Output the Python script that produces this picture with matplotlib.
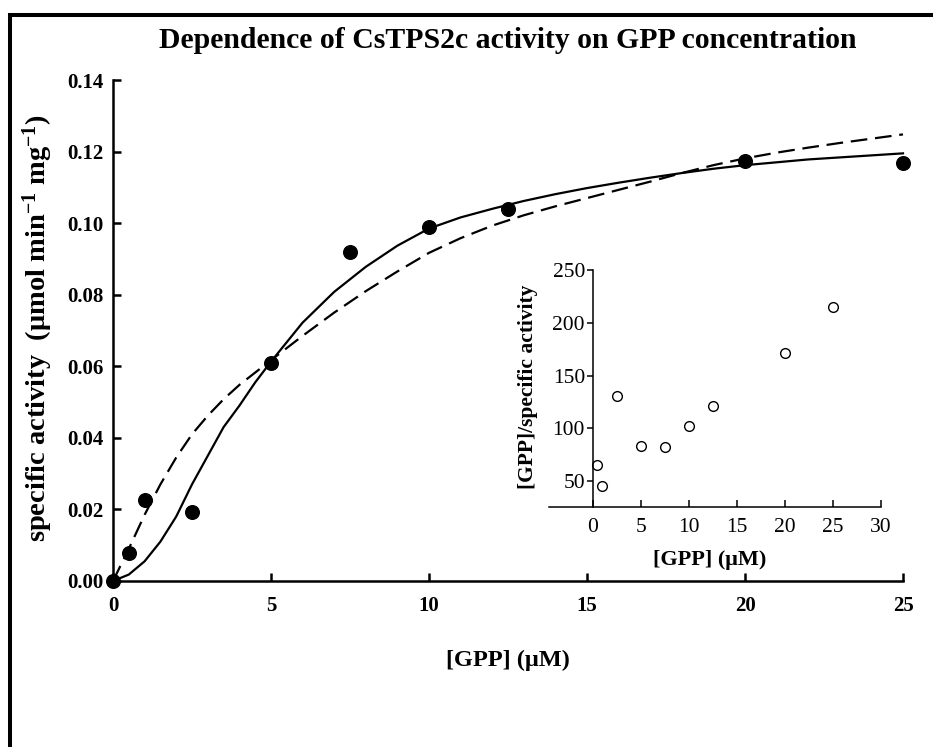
import matplotlib
matplotlib.use("Agg")
import matplotlib.pyplot as plt
from matplotlib.patches import Rectangle

plt.rcParams['font.family'] = ['Liberation Serif', 'DejaVu Serif']
plt.rcParams['mathtext.fontset'] = 'custom'
plt.rcParams['mathtext.rm'] = 'Liberation Serif:bold'
plt.rcParams['mathtext.default'] = 'rm'

# measured specific activity vs [GPP]
gpp = [0, 0.5, 1, 2.5, 5, 7.5, 10, 12.5, 20, 25]
activity = [0.0, 0.0078, 0.0226, 0.0193, 0.0609, 0.0920, 0.0988, 0.1039, 0.1174, 0.1167]

# fitted curves
hill_x = [0, 0.5, 1, 1.5, 2, 2.5, 3, 3.5, 4, 4.5, 5, 6, 7, 8, 9, 10, 11, 12, 13,
          14, 15, 16, 17, 18, 19, 20, 22, 25]
hill_y = [0.0, 0.0018, 0.0055, 0.011, 0.018, 0.027, 0.035, 0.043, 0.049, 0.0555, 0.0613,
          0.0722, 0.0808, 0.0878, 0.0937, 0.0985, 0.1016, 0.1040, 0.1062,
          0.1081, 0.1098, 0.1113, 0.1127, 0.1140, 0.1152, 0.1162, 0.1178, 0.1195]
mm_x = [0, 0.5, 1, 1.5, 2, 2.5, 3, 3.5, 4, 5, 6, 7, 8, 9, 10, 11, 12, 13, 14, 15,
        16, 17, 18, 19, 20, 21, 22, 23, 24, 25]
mm_y = [0.0, 0.009, 0.0185, 0.027, 0.0345, 0.041, 0.0462, 0.0508, 0.0548, 0.0617, 0.0685,
        0.0750, 0.0810, 0.0865, 0.0917, 0.0958, 0.0993, 0.1022, 0.1047, 0.1070,
        0.1093, 0.1116, 0.1140, 0.1162, 0.1181, 0.1197, 0.1211, 0.1224, 0.1236, 0.1248]

# inset: [GPP]/specific activity
inset_x = [0.5, 1, 2.5, 5, 7.5, 10, 12.5, 20, 25]
inset_y = [65.7, 45.2, 131.2, 83.0, 82.7, 101.9, 121.2, 171.2, 215.0]

W, H = 933, 747
fig = plt.figure(figsize=(W / 100, H / 100), dpi=100)

ax = fig.add_axes([113 / W, 1 - 581 / H, 790 / W, 501 / H])
ax.plot(hill_x, hill_y, color='black', lw=1.6, clip_on=False)
ax.plot(mm_x, mm_y, color='black', lw=1.6, dashes=(7.5, 3.5), clip_on=False)
ax.plot(gpp, activity, 'o', color='black', ms=9.8, clip_on=False, zorder=5)

ax.set_xlim(0, 25)
ax.set_ylim(0, 0.14)
ax.set_xticks([0, 5, 10, 15, 20, 25])
ax.set_yticks([0, 0.02, 0.04, 0.06, 0.08, 0.10, 0.12, 0.14])
ax.set_yticklabels(['%.2f' % v for v in ax.get_yticks()])
for s in ['top', 'right']:
    ax.spines[s].set_visible(False)
for s in ['left', 'bottom']:
    ax.spines[s].set_linewidth(1.8)
ax.tick_params(direction='in', length=6, width=1.8, labelsize=15)
ax.tick_params(axis='x', pad=11)
ax.tick_params(axis='y', pad=7)
for lab in ax.get_xticklabels() + ax.get_yticklabels():
    lab.set_fontweight('bold')

fig.text(508 / W, 1 - 48 / H, 'Dependence of CsTPS2c activity on GPP concentration',
         ha='center', va='baseline', fontsize=21.4, fontweight='bold')
fig.text(508 / W, 1 - 660 / H, '[GPP] (\u03bcM)', ha='center', va='center',
         fontsize=17.5, fontweight='bold')
fig.text(38 / W, 1 - 328 / H, 'specific activity  (\u03bcmol min$^{-1}$ mg$^{-1}$)',
         ha='center', va='center', rotation=90, fontsize=20.5, fontweight='bold')

# inset
ins = fig.add_axes([549 / W, 1 - 507 / H, 332 / W, 237 / H])
ins.patch.set_alpha(0)
ins.plot(inset_x, inset_y, 'o', mfc='white', mec='black', mew=1.0, ms=7, clip_on=False)
ins.set_xlim(-4.54, 30)
ins.set_ylim(25.7, 250)
ins.set_xticks([0, 5, 10, 15, 20, 25, 30])
ins.set_yticks([50, 100, 150, 200, 250])
for s in ['top', 'right']:
    ins.spines[s].set_visible(False)
ins.spines['left'].set_position(('data', 0))
for s in ['left', 'bottom']:
    ins.spines[s].set_linewidth(1.1)
ins.tick_params(axis='x', direction='in', length=5, width=1.1, labelsize=15.5, pad=8)
ins.tick_params(axis='y', direction='out', length=4.5, width=1.1, labelsize=15.5, pad=1)
fig.text(710 / W, 1 - 560 / H, '[GPP] (\u03bcM)', ha='center', va='center',
         fontsize=16, fontweight='bold')
fig.text(528 / W, 1 - 387 / H, '[GPP]/specific activity', ha='center', va='center',
         rotation=90, fontsize=15.5, fontweight='bold')

# frame around the figure (cut off at right and bottom)
fig.add_artist(Rectangle((10 / W, -0.1), 1.2, 1.1 - 15 / H, transform=fig.transFigure,
                         fill=False, lw=2.9, edgecolor='black'))

fig.savefig('out.png', dpi=100)
